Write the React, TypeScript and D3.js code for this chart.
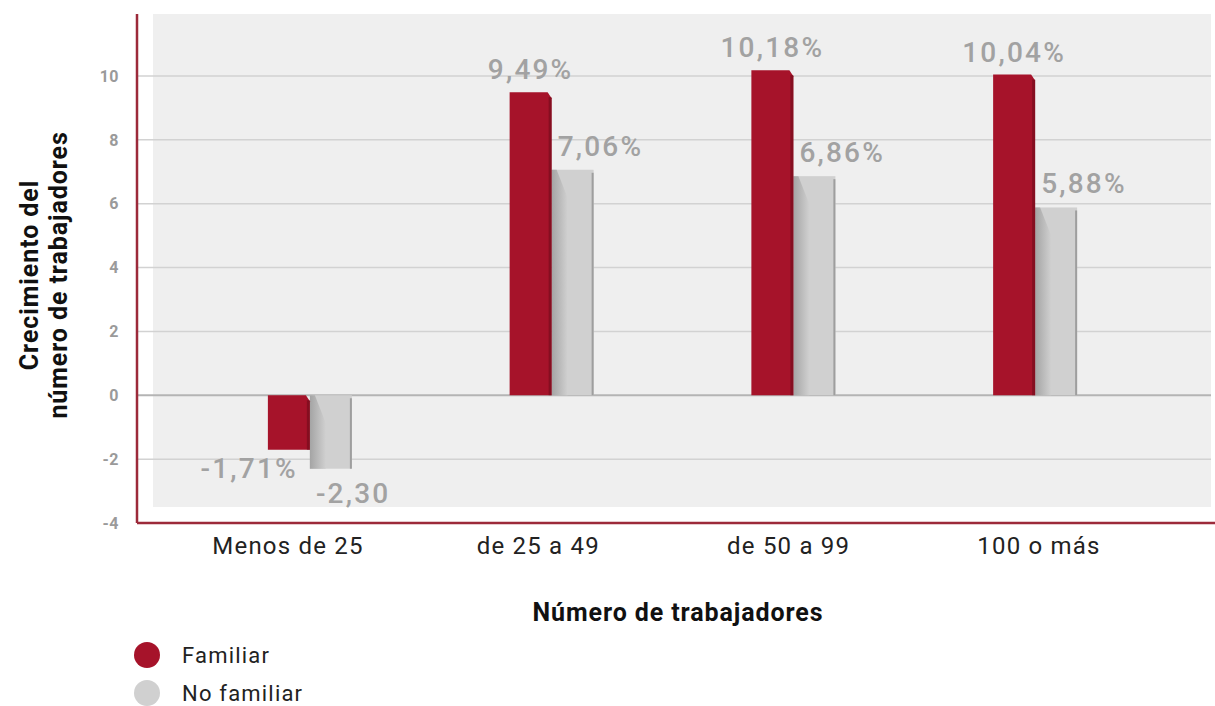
import React from "react";
import * as d3 from "d3";

const categories = ["Menos de 25", "de 25 a 49", "de 50 a 99", "100 o más"];
const familiar = [-1.71, 9.49, 10.18, 10.04];
const noFamiliar = [-2.3, 7.06, 6.86, 5.88];
const familiarLabels = ["-1,71%", "9,49%", "10,18%", "10,04%"];
const noFamiliarLabels = ["-2,30", "7,06%", "6,86%", "5,88%"];
const yTicks = [-4, -2, 0, 2, 4, 6, 8, 10];
const legendItems = ["Familiar", "No familiar"];

const W = 1215;
const H = 706;
const RED = "#a6132a";
const RED_DARK = "#6f0c1b";
const GRAY = "#d0d0d0";
const AXIS = "#9c2a3a";
const FONT = "Roboto, 'DejaVu Sans', sans-serif";

export default function App() {
  const y = d3.scaleLinear().domain([-4, 12]).range([523, 12]);
  // category labels and bar pairs sit on slightly different centres in the original
  const xLabel = d3.scalePoint<string>().domain(categories).range([288, 1039]);
  const xBar = d3.scaleBand<string>().domain(categories).range([189, 1156]);
  const barW = 42;

  const plotLeft = 137;
  const plotRight = 1211;

  return (
    <svg width={W} height={H} style={{ position: "absolute", left: 0, top: 0, background: "#fff" }} fontFamily={FONT}>
      <defs>
        <linearGradient id="shadow" x1="0" x2="1" y1="0" y2="0">
          <stop offset="0" stopColor="#a4a4a4" />
          <stop offset="1" stopColor={GRAY} />
        </linearGradient>
      </defs>

      {/* panel */}
      <rect x={153} y={y(12) + 2} width={plotRight - 153} height={y(-3.5) - y(12) - 2} fill="#efefef" />

      {/* gridlines */}
      {yTicks.filter(t => t > -4).map(t => (
        <line key={t} x1={plotLeft} x2={plotRight} y1={y(t)} y2={y(t)}
          stroke={t === 0 ? "#b4b4b4" : "#d2d2d2"} strokeWidth={t === 0 ? 2 : 1.5} />
      ))}

      {/* tick labels */}
      {yTicks.map(t => (
        <text key={t} x={119} y={y(t)} dy="0.36em" textAnchor="end" fontSize={16} fontWeight={700} letterSpacing={0.5} fill="#9a9a9a">{t}</text>
      ))}

      {/* bars */}
      {categories.map((c, i) => {
        const cx = xBar(c)! + xBar.bandwidth() / 2;
        const rx = cx - barW;
        const gx = cx;
        const f = familiar[i];
        const n = noFamiliar[i];
        const fTop = Math.min(y(f), y(0));
        const fH = Math.abs(y(f) - y(0));
        const nTop = Math.min(y(n), y(0));
        const nBot = Math.max(y(n), y(0));
        const nH = nBot - nTop;
        const neg = n < 0;
        const shTop = neg ? y(0) : nTop;
        return (
          <g key={c}>
            {/* no familiar */}
            <rect x={gx} y={nTop} width={barW} height={nH} fill={GRAY} />
            <path d={`M${gx},${shTop} L${gx + 5},${shTop} L${gx + 16},${shTop + 28} L${gx + 16},${nBot} L${gx},${nBot} Z`} fill="url(#shadow)" />
            <rect x={gx + barW - 2} y={nTop + 3} width={2} height={nH - 3} fill="#9e9e9e" />
            {/* familiar */}
            <path d={`M${rx},${fTop} L${rx + barW - 4},${fTop} L${rx + barW},${fTop + 6} L${rx + barW},${fTop + fH} L${rx},${fTop + fH} Z`} fill={RED} />
            <rect x={rx + barW - 3} y={fTop + 5} width={3} height={fH - 5} fill={RED_DARK} opacity={0.6} />

            {/* value labels */}
            {f >= 0 ? (
              <text x={rx + barW / 2} y={y(f) - 13} textAnchor="middle" fontSize={28} fontWeight={500} letterSpacing={2.2} fill="#a2a2a2">{familiarLabels[i]}</text>
            ) : (
              <text x={rx + barW - 12} y={y(f) + 28} textAnchor="end" fontSize={28} fontWeight={500} letterSpacing={2.2} fill="#a2a2a2">{familiarLabels[i]}</text>
            )}
            <text x={gx + 6} y={n >= 0 ? y(n) - 14 : y(n) + 34} textAnchor="start" fontSize={28} fontWeight={500} letterSpacing={2.2} fill="#a2a2a2">{noFamiliarLabels[i]}</text>
          </g>
        );
      })}

      {/* axes */}
      <line x1={plotLeft} x2={plotLeft} y1={y(12) + 2} y2={y(-4)} stroke={AXIS} strokeWidth={2.5} />
      <line x1={plotLeft} x2={W} y1={y(-4)} y2={y(-4)} stroke={AXIS} strokeWidth={2.5} />

      {/* category labels */}
      {categories.map(c => (
        <text key={c} x={xLabel(c)} y={554} textAnchor="middle" fontSize={24} letterSpacing={1.2} fill="#222">{c}</text>
      ))}

      {/* axis titles */}
      <text x={678} y={621} textAnchor="middle" fontSize={25} fontWeight={700} letterSpacing={0.9} fill="#111">Número de trabajadores</text>
      <g transform="translate(38,275) rotate(-90)">
        <text x={0} y={0} textAnchor="middle" fontSize={25} fontWeight={700} letterSpacing={0.9} fill="#111">Crecimiento del</text>
        <text x={0} y={29} textAnchor="middle" fontSize={25} fontWeight={700} letterSpacing={0.9} fill="#111">número de trabajadores</text>
      </g>

      {/* legend */}
      {legendItems.map((l, i) => (
        <g key={l} transform={`translate(147,${655 + i * 38})`}>
          <circle r={13} fill={i === 0 ? RED : GRAY} />
          <text x={35} y={0} dy="0.36em" fontSize={22} letterSpacing={1.2} fill="#222">{l}</text>
        </g>
      ))}
    </svg>
  );
}
